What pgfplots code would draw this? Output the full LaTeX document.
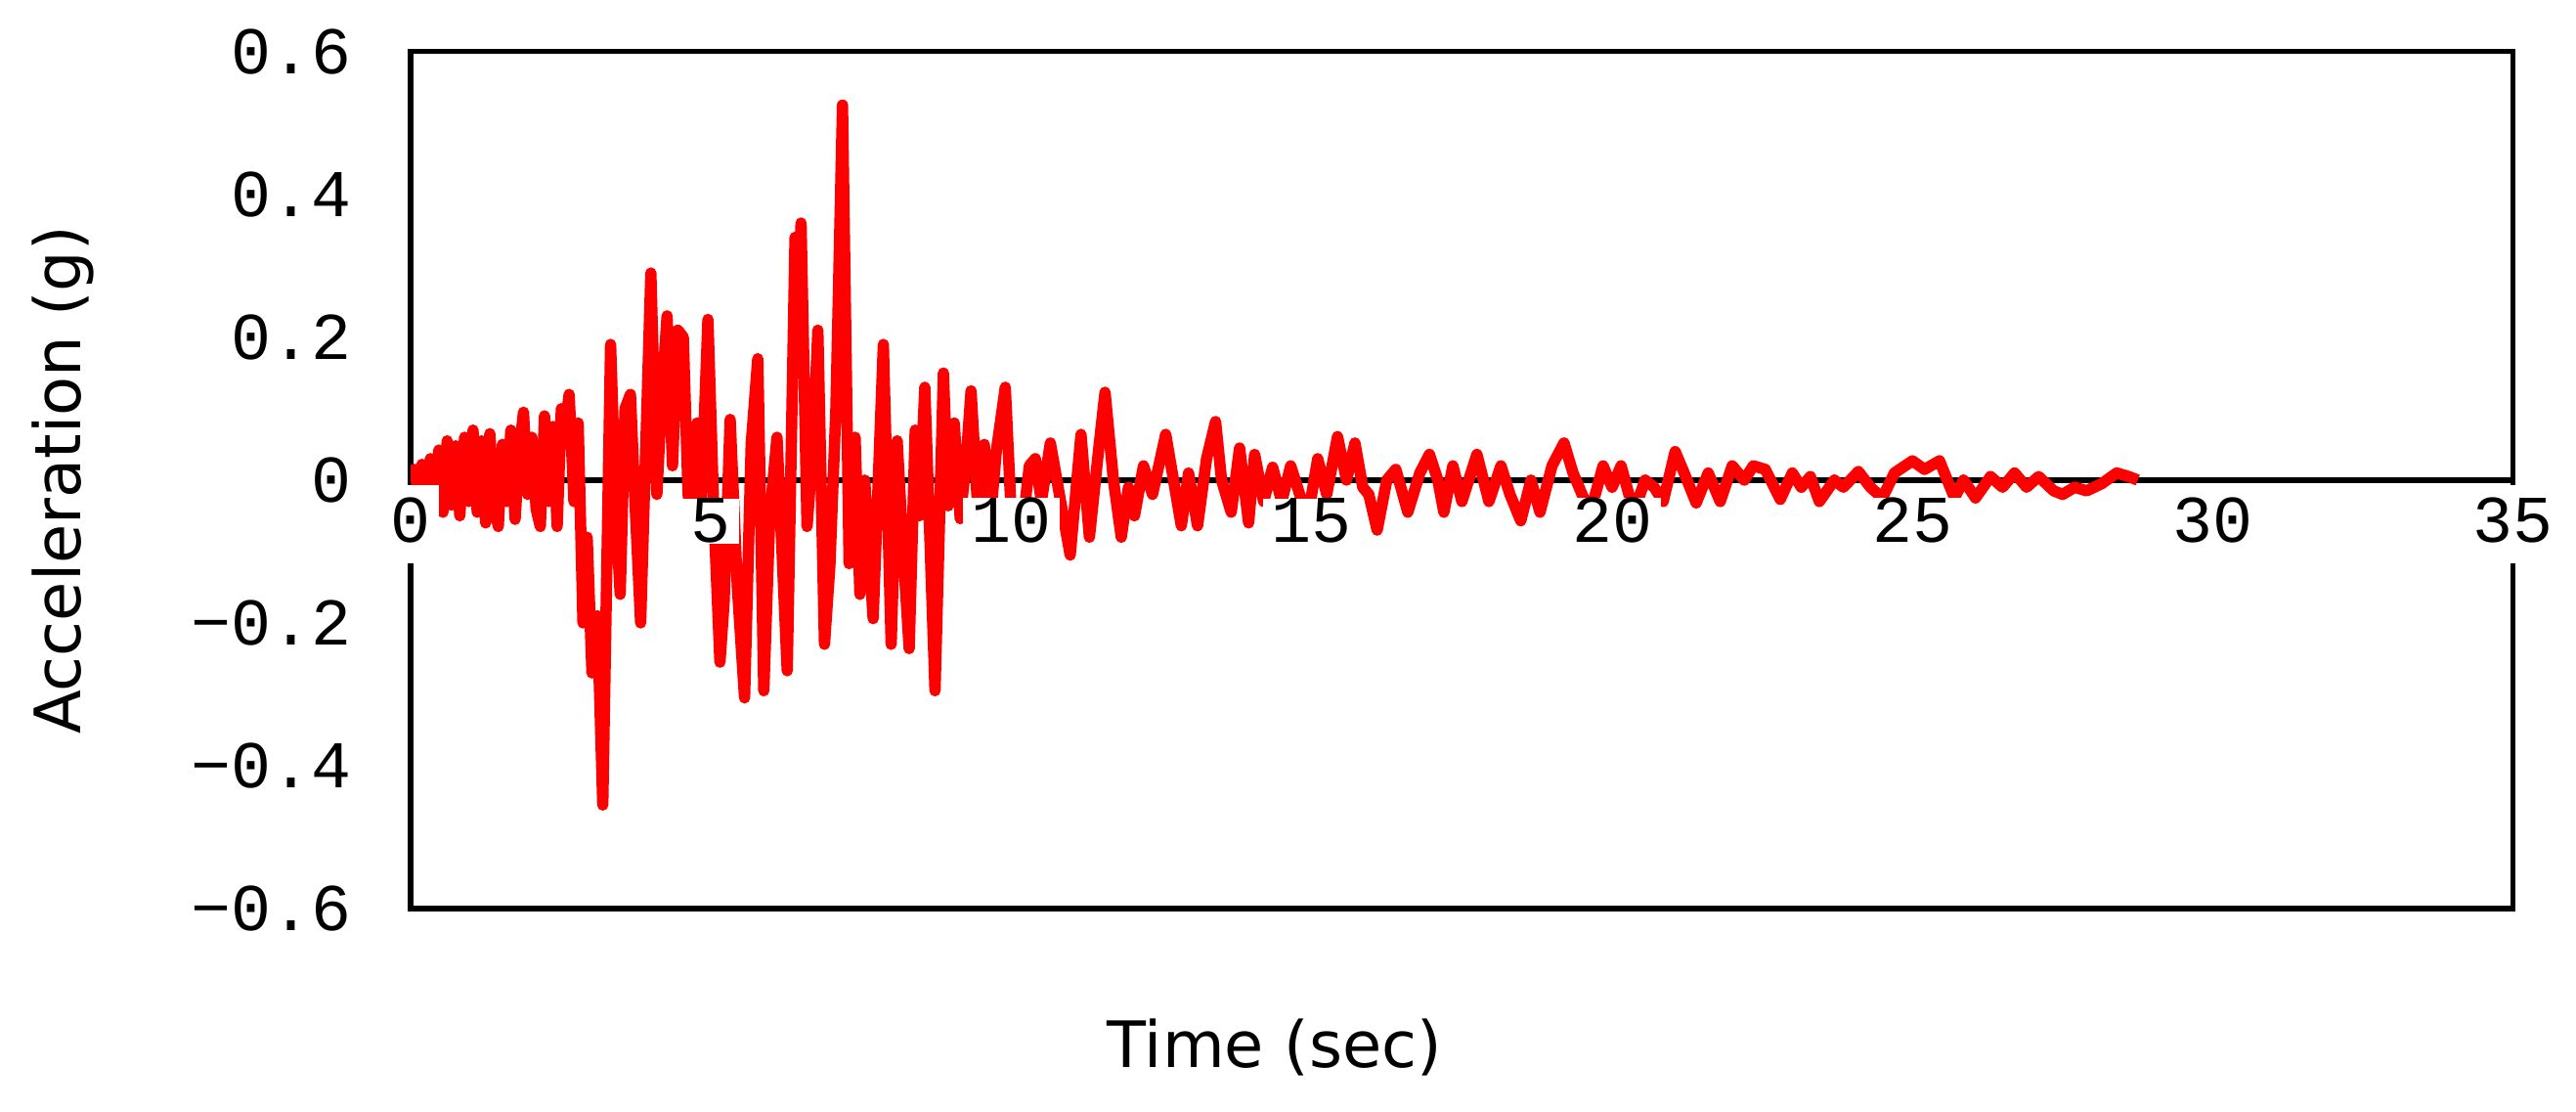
\documentclass[border=0pt]{standalone}
\usepackage{fontspec}
\setmainfont{DejaVu Sans}
\newfontfamily\tickfont{Liberation Mono}
\usepackage{pgfplots}
\pgfplotsset{compat=1.18}
\newcommand{\tickfs}{\tickfont\fontsize{11.8}{13}\selectfont}
\newcommand{\labfs}{\fontsize{11.3}{13}\selectfont}
% taller white box for the labels that sit on the frame
\newcommand{\gap}{\rule[-1.27mm]{0pt}{4.85mm}}

\pgfplotstableread{
t a
0.00 0.000
0.06 0.015
0.12 -0.012
0.19 0.022
0.26 -0.020
0.33 0.030
0.40 -0.028
0.47 0.042
0.54 -0.045
0.61 0.055
0.68 -0.035
0.75 0.048
0.82 -0.050
0.90 0.060
0.97 -0.030
1.04 0.070
1.11 -0.045
1.18 0.055
1.25 -0.060
1.32 0.065
1.39 -0.035
1.46 -0.065
1.53 0.050
1.60 -0.030
1.67 0.070
1.74 -0.055
1.81 0.040
1.88 0.095
1.95 -0.020
2.02 0.060
2.09 -0.040
2.16 -0.065
2.23 0.090
2.30 -0.030
2.37 0.075
2.44 -0.065
2.51 0.100
2.58 0.080
2.64 0.120
2.72 -0.030
2.79 0.080
2.87 -0.200
2.94 -0.080
3.02 -0.270
3.11 -0.190
3.20 -0.455
3.33 0.190
3.42 -0.050
3.49 -0.160
3.57 0.100
3.66 0.120
3.73 -0.020
3.83 -0.200
4.00 0.290
4.10 -0.020
4.17 0.100
4.27 0.230
4.36 0.020
4.45 0.210
4.54 0.200
4.62 -0.020
4.69 -0.055
4.77 0.080
4.84 -0.030
4.95 0.225
5.05 -0.050
5.15 -0.255
5.22 -0.170
5.32 0.085
5.44 -0.150
5.56 -0.305
5.67 0.050
5.78 0.170
5.88 -0.295
5.98 -0.050
6.10 0.060
6.27 -0.267
6.40 0.340
6.45 0.250
6.50 0.360
6.60 -0.065
6.70 0.050
6.78 0.210
6.89 -0.230
6.98 -0.120
7.08 0.100
7.19 0.525
7.30 -0.117
7.40 0.060
7.48 -0.160
7.56 0.000
7.70 -0.194
7.87 0.190
8.00 -0.230
8.10 0.055
8.20 -0.100
8.30 -0.236
8.40 0.070
8.47 -0.050
8.56 0.130
8.73 -0.295
8.87 0.150
8.95 -0.036
9.05 0.080
9.15 -0.054
9.25 0.030
9.33 0.125
9.45 -0.054
9.55 0.050
9.65 -0.055
9.75 0.040
9.90 0.130
10.00 -0.050
10.20 -0.055
10.30 0.020
10.40 0.030
10.50 -0.030
10.65 0.052
10.80 -0.020
10.98 -0.105
11.16 0.064
11.30 -0.080
11.45 0.040
11.56 0.123
11.70 0.000
11.83 -0.080
11.95 -0.010
12.05 -0.050
12.20 0.020
12.35 -0.020
12.57 0.064
12.70 0.000
12.83 -0.064
12.95 0.010
13.10 -0.064
13.25 0.030
13.40 0.082
13.50 0.000
13.66 -0.045
13.80 0.045
13.95 -0.060
14.05 0.036
14.20 -0.030
14.35 0.018
14.50 -0.030
14.65 0.020
14.80 -0.020
14.93 -0.055
15.10 0.030
15.25 -0.020
15.43 0.061
15.58 0.000
15.72 0.052
15.85 -0.010
15.95 -0.020
16.09 -0.070
16.25 0.000
16.40 0.015
16.60 -0.045
16.80 0.010
16.96 0.036
17.10 0.000
17.20 -0.045
17.35 0.020
17.50 -0.030
17.75 0.036
17.95 -0.030
18.15 0.020
18.30 -0.020
18.48 -0.057
18.65 0.000
18.80 -0.045
19.00 0.020
19.20 0.052
19.35 0.010
19.50 -0.020
19.64 -0.045
19.85 0.020
20.00 -0.010
20.15 0.020
20.36 -0.045
20.55 0.000
20.70 -0.010
20.85 -0.030
21.05 0.040
21.20 0.010
21.40 -0.032
21.60 0.010
21.80 -0.030
22.00 0.020
22.20 0.000
22.35 0.020
22.55 0.015
22.80 -0.027
23.00 0.010
23.15 -0.010
23.30 0.005
23.45 -0.030
23.70 0.000
23.85 -0.010
24.10 0.012
24.30 -0.010
24.50 -0.025
24.70 0.010
25.00 0.027
25.20 0.015
25.45 0.027
25.70 -0.025
25.85 0.000
26.05 -0.025
26.30 0.005
26.50 -0.010
26.70 0.010
26.90 -0.010
27.10 0.005
27.35 -0.015
27.50 -0.020
27.70 -0.010
27.90 -0.015
28.15 -0.005
28.40 0.010
28.60 0.005
28.75 0.000
}\accdata

\begin{document}
\begin{tikzpicture}
\useasboundingbox (-2.55cm,-1.257cm) rectangle (13.45cm,5.641cm);
\begin{axis}[
  at={(0,0)}, anchor=south west,
  scale only axis, width=13.06cm, height=5.32cm,
  xmin=0, xmax=35, ymin=-0.6, ymax=0.6,
  xtick=\empty,
  ytick={-0.6,-0.4,-0.2,0,0.2,0.4,0.6},
  yticklabels={−0.6,−0.4,−0.2,0,0.2,0.4,0.6},
  major tick length=0pt,
  axis line style={line width=0.9pt},
  yticklabel style={font=\tickfs, anchor=east, inner sep=0pt, xshift=-0.36cm},
  xlabel={Time (sec)}, ylabel={Acceleration (g)},
  label style={font=\labfs},
  xlabel style={at={(axis description cs:0.411,-0.185)}, anchor=base},
  ylabel style={at={(axis description cs:-0.157,0.5)}, anchor=base},
]
\draw[line width=1pt] (axis cs:0,0) -- (axis cs:35,0);
\addplot[red, line width=2pt, line join=round] table[x=t, y=a] {\accdata};
\end{axis}
\begin{axis}[
  at={(0,0)}, anchor=south west,
  scale only axis, width=13.06cm, height=5.32cm,
  xmin=0, xmax=35, ymin=-0.6, ymax=0.6,
  axis line style={draw=none}, ytick=\empty,
  xtick={0,5,10,15,20,25,30,35},
  xticklabels={\gap 0,5,10,15,20,25,30,\gap 35},
  major tick length=0pt,
  xticklabel style={font=\tickfs, anchor=base, fill=white, inner xsep=1.5pt, inner ysep=0pt, yshift=2.271cm},
]
\addplot[draw=none] coordinates {(0,0)};
\end{axis}
\end{tikzpicture}
\end{document}
